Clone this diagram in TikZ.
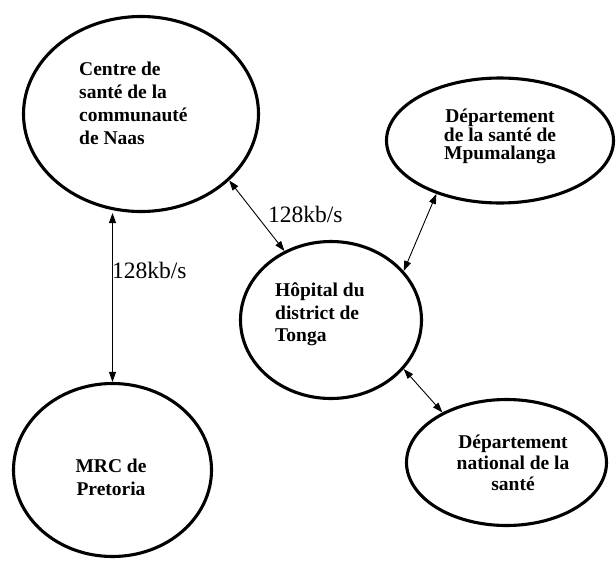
\documentclass[tikz,border=0pt]{standalone}
\usepackage{fontspec}
\setmainfont{Liberation Serif}
\usetikzlibrary{shapes.geometric,arrows.meta}
\begin{document}
\begin{tikzpicture}[x=1pt,y=-1pt,
  bubble/.style={ellipse,draw,line width=3.1pt,inner sep=0pt},
  lbl/.style={inner sep=0pt},
  rate/.style={font=\fontsize{23.5}{28}\selectfont,inner sep=0pt,anchor=base west},
  link/.style={line width=0.9pt,{Triangle[length=10pt,width=7pt]}-{Triangle[length=10pt,width=7pt]}}]
\useasboundingbox[fill=white] (0,0) rectangle (616,560);
% ellipses
\node[bubble,minimum width=235pt,minimum height=195pt] (naas) at (141,114) {};
\node[bubble,minimum width=198pt,minimum height=173pt] (mrc) at (112.5,470) {};
\node[bubble,minimum width=181pt,minimum height=157pt] (hop) at (331,320) {};
\node[bubble,minimum width=227pt,minimum height=125pt] (mpu) at (500,140.5) {};
\node[bubble,minimum width=200pt,minimum height=126pt] (nat) at (506.5,462.5) {};
% texts
\node[lbl,align=left,anchor=north west,font=\fontsize{19.5}{23}\selectfont\bfseries] (naastxt) at (79,62) {Centre de\\santé de la\\communauté\\de Naas};
\node[lbl,align=center,anchor=north,font=\fontsize{19.5}{23}\selectfont\bfseries] (mrctxt) at (111,459) {MRC de\\Pretoria};
\node[lbl,align=left,anchor=north west,font=\fontsize{19.5}{22.5}\selectfont\bfseries] (hoptxt) at (275,283) {Hôpital du\\district de\\Tonga};
\node[lbl,align=center,anchor=north,font=\fontsize{19.5}{18.5}\selectfont\bfseries] (mputxt) at (500,109) {Département\\de la santé de\\Mpumalanga};
\node[lbl,align=center,anchor=north,font=\fontsize{19.5}{21}\selectfont\bfseries] (nattxt) at (513,435) {Département\\national de la\\santé};
% connectors
\draw[link] (mrc.north |- naas.south) -- (mrc.north);
\draw[link] (naas.-37) -- (hop.124);
\draw[link] (hop.34) -- (mpu.220);
\draw[link] (hop.-34) -- (nat.142);
% rate labels
\node[rate] (rate1) at (112,278) {128kb/s};
\node[rate] (rate2) at (268,222) {128kb/s};
\end{tikzpicture}
\end{document}
